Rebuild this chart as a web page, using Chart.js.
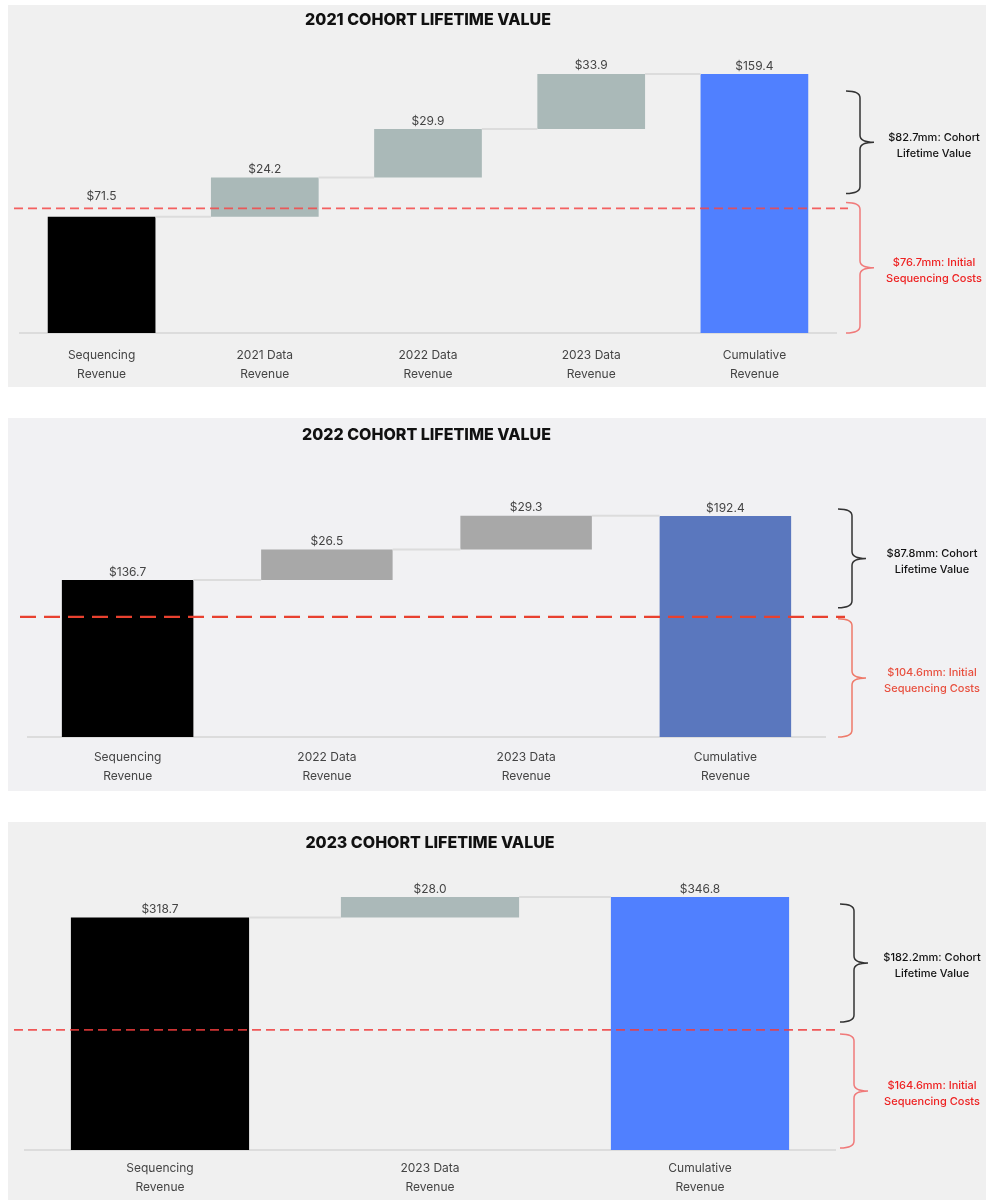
<!DOCTYPE html>
<html>
<head>
<meta charset="utf-8">
<script src="https://cdn.jsdelivr.net/npm/chart.js@4.4.1/dist/chart.umd.min.js"></script>
<style>
  body { margin: 0; background: #fff; width: 986px; height: 1201px; position: relative; overflow: hidden; }
  .panel { position: absolute; left: 8px; width: 978px; background: #f0f0f0; }
  .panel canvas { display: block; }
</style>
</head>
<body>
<div class="panel" style="top:5px;height:382px"><canvas id="c2021"></canvas></div>
<div class="panel" style="top:418px;height:373px;background:#f1f1f3"><canvas id="c2022"></canvas></div>
<div class="panel" style="top:822px;height:378px"><canvas id="c2023"></canvas></div>
<script>
// 2021 cohort
const labels2021 = [["Sequencing", "Revenue"], ["2021 Data", "Revenue"], ["2022 Data", "Revenue"], ["2023 Data", "Revenue"], ["Cumulative", "Revenue"]];
const steps2021 = [71.5, 24.2, 29.9, 33.9];
const total2021 = 159.4;
const cost2021 = 76.7;
const ltv2021 = 82.7;

// 2022 cohort
const labels2022 = [["Sequencing", "Revenue"], ["2022 Data", "Revenue"], ["2023 Data", "Revenue"], ["Cumulative", "Revenue"]];
const steps2022 = [136.7, 26.5, 29.3];
const total2022 = 192.4;
const cost2022 = 104.6;
const ltv2022 = 87.8;

// 2023 cohort
const labels2023 = [["Sequencing", "Revenue"], ["2023 Data", "Revenue"], ["Cumulative", "Revenue"]];
const steps2023 = [318.7, 28.0];
const total2023 = 346.8;
const cost2023 = 164.6;
const ltv2023 = 182.2;

const FONT = "Inter, 'Noto Sans', sans-serif";

function money(v) {
  return "$" + v.toFixed(1);
}

function drawBrace(ctx, x, top, bottom, color) {
  const w = 14, r = 7;
  const mid = (top + bottom) / 2;
  ctx.beginPath();
  ctx.moveTo(x - w, top);
  ctx.quadraticCurveTo(x, top, x, top + r);
  ctx.lineTo(x, mid - r);
  ctx.quadraticCurveTo(x, mid, x + w, mid);
  ctx.quadraticCurveTo(x, mid, x, mid + r);
  ctx.lineTo(x, bottom - r);
  ctx.quadraticCurveTo(x, bottom, x - w, bottom);
  ctx.strokeStyle = color;
  ctx.lineWidth = 1.5;
  ctx.stroke();
}

const extras = {
  id: "extras",
  afterDatasetsDraw(chart, args, o) {
    const { ctx, chartArea, scales } = chart;
    const y = scales.y;
    const bars = chart.getDatasetMeta(0).data;
    ctx.save();

    // connectors between bars
    ctx.strokeStyle = "#dcdcdc";
    ctx.lineWidth = 2;
    for (let i = 0; i < bars.length - 1; i++) {
      const a = bars[i], b = bars[i + 1];
      ctx.beginPath();
      ctx.moveTo(a.x + a.width / 2, a.y);
      ctx.lineTo(b.x - b.width / 2, a.y);
      ctx.stroke();
    }

    // value labels
    ctx.fillStyle = "#444";
    ctx.font = "12px " + FONT;
    ctx.textAlign = "center";
    ctx.textBaseline = "middle";
    bars.forEach((bar, i) => {
      ctx.fillText(money(o.values[i]), bar.x, bar.y - o.labelLift[i]);
    });

    // initial cost line
    const yc = y.getPixelForValue(o.cost);
    ctx.setLineDash(o.dash);
    ctx.strokeStyle = o.dashColor;
    ctx.lineWidth = o.dashWidth;
    ctx.beginPath();
    ctx.moveTo(chartArea.left + o.dashExt[0], yc);
    ctx.lineTo(chartArea.right + o.dashExt[1], yc);
    ctx.stroke();
    ctx.setLineDash([]);

    // braces
    const yt = y.getPixelForValue(o.total);
    const y0 = y.getPixelForValue(0);
    const ins = o.braceInset;
    const bTop = yt + ins[0], bBot = yc - ins[1];
    const rTop = yc + ins[2], rBot = y0 - ins[3];
    drawBrace(ctx, o.braceX, bTop, bBot, "#333");
    drawBrace(ctx, o.braceX, rTop, rBot, o.braceRed);

    ctx.font = "500 11px " + FONT;
    ctx.fillStyle = "#111";
    let m = (bTop + bBot) / 2;
    ctx.fillText(money(o.ltv) + "mm: Cohort", o.textX, m - 5);
    ctx.fillText("Lifetime Value", o.textX, m + 11);
    ctx.fillStyle = o.textRed;
    m = (rTop + rBot) / 2;
    ctx.fillText(money(o.cost) + "mm: Initial", o.textX, m - 5);
    ctx.fillText("Sequencing Costs", o.textX, m + 11);

    // title
    ctx.font = "800 16px " + FONT;
    ctx.fillStyle = "#111";
    ctx.fillText(o.title, (chartArea.left + chartArea.right) / 2, o.titleY);
    ctx.restore();
  }
};

function waterfall(id, labels, steps, total, cost, ltv, s) {
  const ranges = [];
  let run = 0;
  steps.forEach((v) => {
    ranges.push([run, run + v]);
    run += v;
  });
  ranges.push([0, total]);
  const values = steps.concat([total]);
  const colors = steps.map((v, i) => (i === 0 ? "#000000" : s.stepColor)).concat([s.totalColor]);

  return new Chart(document.getElementById(id), {
    type: "bar",
    data: {
      labels: labels,
      datasets: [{
        data: ranges,
        backgroundColor: colors,
        borderWidth: 0,
        categoryPercentage: 1,
        barPercentage: 0.66
      }]
    },
    options: {
      responsive: true,
      maintainAspectRatio: false,
      animation: false,
      layout: { padding: s.padding },
      plugins: {
        legend: { display: false },
        tooltip: { enabled: false },
        extras: Object.assign({ values, cost, total, ltv }, s)
      },
      scales: {
        x: {
          grid: { display: false, drawTicks: false },
          border: { display: true, color: "#dcdcdc", width: 2 },
          ticks: {
            color: "#444",
            font: { family: FONT, size: 12, lineHeight: 1.6 },
            padding: s.tickPad,
            maxRotation: 0,
            autoSkip: false
          },
          afterFit: (axis) => { axis.height = 50; }
        },
        y: { display: false, min: 0, max: s.yMax }
      }
    },
    plugins: [extras]
  });
}

waterfall("c2021", labels2021, steps2021, total2021, cost2021, ltv2021, {
  title: "2021 COHORT LIFETIME VALUE", titleY: 15,
  stepColor: "#aab9b8", totalColor: "#5080ff",
  padding: { left: 12, right: 150, top: 45, bottom: 4 }, yMax: 174.2, tickPad: 13,
  labelLift: [20, 8, 8, 8, 8],
  dash: [9, 5], dashColor: "rgba(245,70,70,0.85)", dashWidth: 1.6, dashExt: [-6, 12],
  braceX: 852, braceInset: [17, 15, -6, 0], braceRed: "#f07a7a",
  textX: 926, textRed: "#ee2222"
});

waterfall("c2022", labels2022, steps2022, total2022, cost2022, ltv2022, {
  title: "2022 COHORT LIFETIME VALUE", titleY: 17,
  stepColor: "#a8a8a8", totalColor: "#5a77be",
  padding: { left: 20, right: 161, top: 45, bottom: 4 }, yMax: 238.5, tickPad: 11,
  labelLift: [8, 8, 8, 8],
  dash: [16, 8], dashColor: "#e8412f", dashWidth: 2.2, dashExt: [-8, 20],
  braceX: 844, braceInset: [-7, 9, 2, 0], braceRed: "#ee7a6a",
  textX: 924, textRed: "#e8503f"
});

waterfall("c2023", labels2023, steps2023, total2023, cost2023, ltv2023, {
  title: "2023 COHORT LIFETIME VALUE", titleY: 21,
  stepColor: "#abb9b9", totalColor: "#5080ff",
  padding: { left: 17, right: 151, top: 45, bottom: 0 }, yMax: 387.9, tickPad: 9,
  labelLift: [8, 8, 8],
  dash: [9, 5], dashColor: "rgba(240,60,60,0.85)", dashWidth: 1.6, dashExt: [-11, 5],
  braceX: 846, braceInset: [7, 8, 4, 2], braceRed: "#f07a7a",
  textX: 924, textRed: "#ee2222"
});
</script>
</body>
</html>
